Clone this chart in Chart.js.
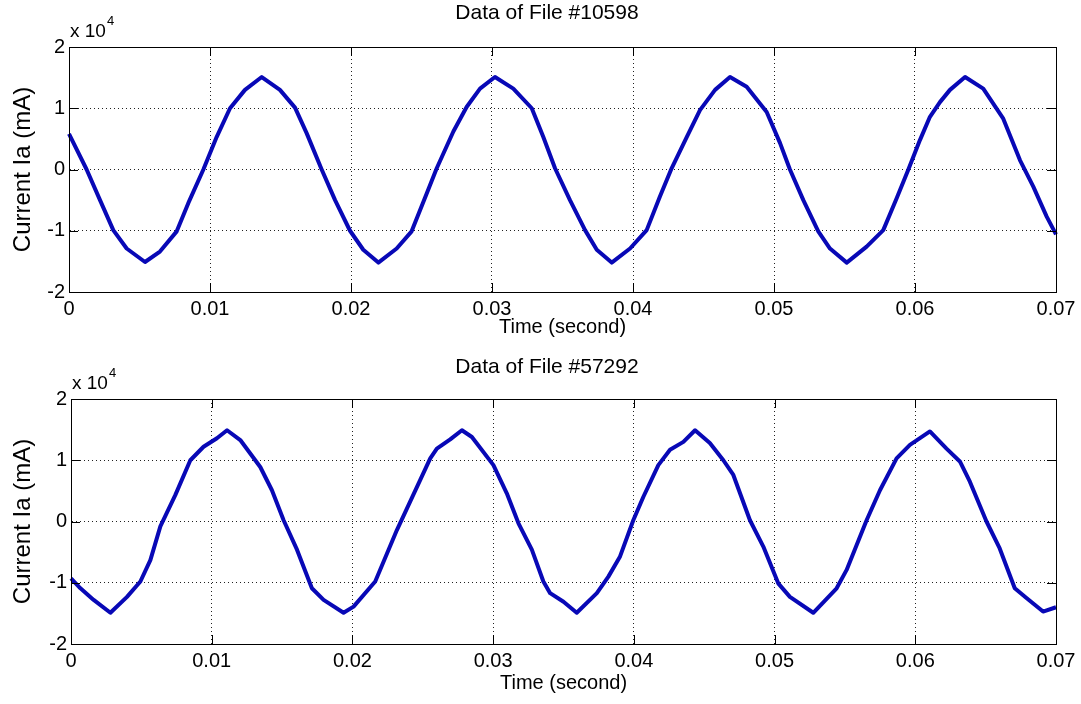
<!DOCTYPE html>
<html>
<head>
<meta charset="utf-8">
<title>Current Ia</title>
<script src="https://cdn.jsdelivr.net/npm/chart.js@4.4.1/dist/chart.umd.min.js"></script>
<style>
  body { margin: 0; background: #fff; }
  .panel { position: absolute; left: 0; width: 1081px; height: 352px; }
  #panelTop { top: 0; }
  #panelBottom { top: 352px; }
</style>
</head>
<body>
<div class="panel" id="panelTop"><canvas id="chartTop" width="1081" height="352"></canvas></div>
<div class="panel" id="panelBottom"><canvas id="chartBottom" width="1081" height="352"></canvas></div>
<script>
// Axis ticks shared by both plots
const timeTicks = [0, 0.01, 0.02, 0.03, 0.04, 0.05, 0.06, 0.07];
const currentTicks = [-20000, -10000, 0, 10000, 20000];

// File #10598 : time (s) and current Ia (mA)
const timeA = [0, 0.00125, 0.0022, 0.00314, 0.00409, 0.00539, 0.00645, 0.00764, 0.00846, 0.00953,
  0.01047, 0.01142, 0.01248, 0.01367, 0.01496, 0.01603, 0.01686, 0.01792, 0.01887, 0.01993,
  0.02087, 0.02194, 0.02324, 0.0243, 0.02537, 0.02608, 0.02726, 0.0282, 0.02915, 0.03021,
  0.03151, 0.03282, 0.03364, 0.03447, 0.03553, 0.0366, 0.03743, 0.03849, 0.03979, 0.04097,
  0.04191, 0.04274, 0.04381, 0.04475, 0.04582, 0.04688, 0.04806, 0.04948, 0.05043, 0.05113,
  0.05208, 0.05314, 0.05397, 0.05516, 0.05657, 0.05775, 0.0587, 0.05953, 0.06035, 0.06106,
  0.06177, 0.06248, 0.06355, 0.06484, 0.06626, 0.06745, 0.06839, 0.06934, 0.07];
const currentA = [5800, 0, -5000, -9900, -12900, -15100, -13400, -10100, -5500, 0,
  5300, 10000, 13000, 15100, 13000, 10100, 5900, 0, -5000, -10000,
  -13100, -15200, -12900, -10100, -3900, 200, 6200, 10200, 13200, 15100,
  13200, 10000, 5300, 200, -5000, -9900, -13100, -15200, -12900, -9900,
  -4400, 200, 5300, 9700, 13000, 15100, 13500, 9400, 4300, 0,
  -5000, -10100, -12900, -15200, -12600, -9900, -4700, 0, 4800, 8600,
  11000, 13000, 15100, 13200, 8300, 1500, -2800, -7700, -10600];

// File #57292
const timeB = [0, 0.00067, 0.00161, 0.0028, 0.00398, 0.00493, 0.00564, 0.00635, 0.00741, 0.00848,
  0.00942, 0.01037, 0.01109, 0.01203, 0.01345, 0.01428, 0.01511, 0.01606, 0.01712, 0.01795,
  0.01937, 0.02008, 0.02162, 0.02316, 0.02482, 0.02553, 0.026, 0.02695, 0.02778, 0.02849,
  0.03002, 0.03097, 0.0318, 0.03275, 0.03357, 0.03405, 0.035, 0.03594, 0.03737, 0.03819,
  0.03902, 0.03996, 0.04067, 0.04174, 0.04257, 0.04352, 0.04435, 0.0454, 0.04636, 0.04707,
  0.04825, 0.0492, 0.05026, 0.05109, 0.05275, 0.05441, 0.05512, 0.05654, 0.05749, 0.05867,
  0.05962, 0.06104, 0.06222, 0.06317, 0.06388, 0.06506, 0.066, 0.06707, 0.0679, 0.06908, 0.07];
const currentB = [-9300, -10900, -12800, -14900, -12300, -9800, -6300, -800, 4300, 10000,
  12200, 13600, 14900, 13300, 8900, 5100, 200, -4600, -10900, -12800,
  -14900, -13900, -9800, -1400, 6800, 10300, 11900, 13400, 14900, 13800,
  9200, 4600, -300, -4600, -9800, -11700, -13100, -14900, -11700, -9000,
  -5700, 200, 4000, 9200, 11700, 13000, 14900, 12800, 10000, 7600,
  200, -4100, -10100, -12300, -14900, -10900, -7900, 200, 5100, 10300,
  12500, 14700, 11900, 9800, 6500, 0, -4400, -10900, -12500, -14700, -14000];

const fontFamily = '"Liberation Sans", Arial, Helvetica, sans-serif';
const labelFont = { family: fontFamily, size: 20, lineHeight: 1.2 };
const yTitleFont = { family: fontFamily, size: 24, lineHeight: 1.2 };

// Box around the axes with inward tick marks, the title and the x 10^4 multiplier
const axesBox = {
  id: 'axesBox',
  afterDraw(chart, args, opts) {
    const { ctx, chartArea: a, scales: { x, y } } = chart;
    const tick = 9;
    ctx.save();
    ctx.strokeStyle = '#000';
    ctx.lineWidth = 1;
    ctx.beginPath();
    timeTicks.forEach(v => {
      const px = Math.round(x.getPixelForValue(v)) + 0.5;
      ctx.moveTo(px, a.bottom); ctx.lineTo(px, a.bottom - tick);
      ctx.moveTo(px, a.top); ctx.lineTo(px, a.top + tick);
    });
    currentTicks.forEach(v => {
      const py = Math.round(y.getPixelForValue(v)) + 0.5;
      ctx.moveTo(a.left, py); ctx.lineTo(a.left + tick, py);
      ctx.moveTo(a.right, py); ctx.lineTo(a.right - tick, py);
    });
    ctx.stroke();
    ctx.strokeRect(Math.round(a.left) + 0.5, Math.round(a.top) + 0.5, Math.round(a.width), Math.round(a.height));

    ctx.fillStyle = '#000';
    ctx.font = '21px ' + fontFamily;
    ctx.textAlign = 'center';
    ctx.textBaseline = 'middle';
    ctx.fillText(opts.text, opts.titleX, opts.titleY);

    ctx.textAlign = 'left';
    ctx.textBaseline = 'alphabetic';
    ctx.font = '19px ' + fontFamily;
    ctx.fillText('x 10', a.left + 1, a.top - 10);
    const w = ctx.measureText('x 10').width;
    ctx.font = '13px ' + fontFamily;
    ctx.fillText('4', a.left + 2 + w, a.top - 22);
    ctx.restore();
  }
};

function drawPlot(canvasId, time, current, panel) {
  return new Chart(document.getElementById(canvasId), {
    type: 'line',
    data: {
      datasets: [{
        data: time.map((t, i) => ({ x: t, y: current[i] })),
        borderColor: '#0808b6',
        borderWidth: 4,
        borderJoinStyle: 'round',
        pointRadius: 0,
        tension: 0,
        fill: false,
        clip: false
      }]
    },
    options: {
      responsive: false,
      animation: false,
      devicePixelRatio: 1,
      layout: { padding: { left: 0, top: 47, right: 25, bottom: 352 - 292 - panel.xHeight } },
      plugins: {
        legend: { display: false },
        tooltip: { enabled: false },
        axesBox: { text: panel.title, titleX: 547, titleY: panel.titleY }
      },
      scales: {
        x: {
          type: 'linear',
          min: 0,
          max: 0.07,
          afterBuildTicks: s => { s.ticks = timeTicks.map(v => ({ value: v })); },
          afterFit: s => { s.height = panel.xHeight; },
          ticks: {
            callback: v => v === 0 ? '0' : v.toFixed(2),
            font: labelFont, color: '#000', padding: 5, maxRotation: 0, autoSkip: false
          },
          grid: { color: '#222', lineWidth: 1, drawTicks: false },
          border: { display: true, color: '#000', dash: [1, 3] },
          title: { display: true, text: 'Time (second)', font: labelFont, color: '#000', padding: 0 }
        },
        y: {
          min: -20000,
          max: 20000,
          afterBuildTicks: s => { s.ticks = currentTicks.map(v => ({ value: v })); },
          afterFit: s => { s.width = panel.left; },
          ticks: {
            callback: v => String(v / 10000),
            font: labelFont, color: '#000', padding: 4
          },
          grid: { color: '#222', lineWidth: 1, drawTicks: false },
          border: { display: true, color: '#000', dash: [1, 3] },
          title: { display: true, text: 'Current Ia (mA)', font: yTitleFont, color: '#000', padding: { top: 9, bottom: 0 } }
        }
      }
    },
    plugins: [axesBox]
  });
}

drawPlot('chartTop', timeA, currentA, { title: 'Data of File #10598', titleY: 13, left: 69, xHeight: 47 });
drawPlot('chartBottom', timeB, currentB, { title: 'Data of File #57292', titleY: 15, left: 71, xHeight: 51 });
</script>
</body>
</html>
